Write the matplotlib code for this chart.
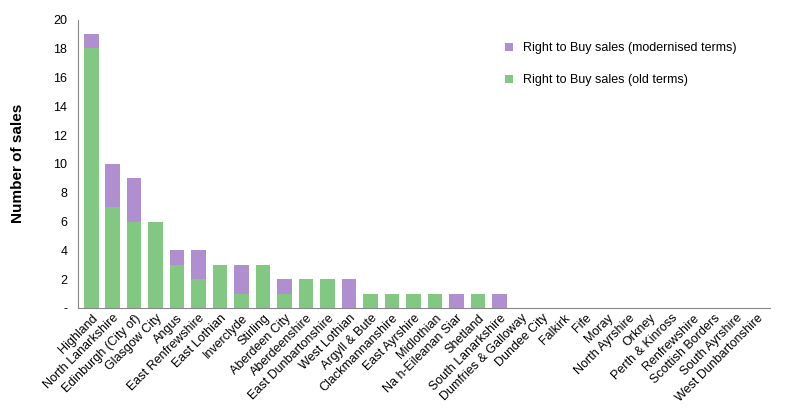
import matplotlib
matplotlib.use("Agg")
import matplotlib.pyplot as plt
import numpy as np

categories = ["Highland","North Lanarkshire","Edinburgh (City of)","Glasgow City","Angus",
 "East Renfrewshire","East Lothian","Inverclyde","Stirling","Aberdeen City","Aberdeenshire",
 "East Dunbartonshire","West Lothian","Argyll & Bute","Clackmannanshire","East Ayrshire",
 "Midlothian","Na h-Eileanan Siar","Shetland","South Lanarkshire","Dumfries & Galloway",
 "Dundee City","Falkirk","Fife","Moray","North Ayrshire","Orkney","Perth & Kinross",
 "Renfrewshire","Scottish Borders","South Ayrshire","West Dunbartonshire"]
old_terms = [18,7,6,6,3,2,3,1,3,1,2,2,0,1,1,1,1,0,1,0,0,0,0,0,0,0,0,0,0,0,0,0]
modern_terms = [1,3,3,0,1,2,0,2,0,1,0,0,2,0,0,0,0,1,0,1,0,0,0,0,0,0,0,0,0,0,0,0]
yticks = [0,2,4,6,8,10,12,14,16,18,20]
ytick_labels = ["-"] + [str(v) for v in yticks[1:]]

plt.rcParams["font.family"] = "Liberation Sans"
fig = plt.figure(figsize=(7.99,4.18), dpi=100)
ax = fig.add_axes([0.098, 0.263, 0.866, 0.69])
x = np.arange(len(categories))
ax.bar(x, old_terms, width=0.68, color="#82c882", label="Right to Buy sales (old terms)")
ax.bar(x, modern_terms, width=0.68, bottom=old_terms, color="#b08fd0",
       label="Right to Buy sales (modernised terms)")
ax.set_xlim(-0.6, len(categories)-0.4)
ax.set_ylim(0, 20)
ax.set_yticks(yticks)
ax.set_yticklabels(ytick_labels, fontsize=9)
ax.set_xticks(x)
ax.set_xticklabels(categories, rotation=45, ha="right", rotation_mode="anchor", fontsize=9)
ax.tick_params(axis="x", length=0, pad=3)
ax.tick_params(axis="y", length=0, pad=8)
for s in ["top","right"]:
    ax.spines[s].set_visible(False)
ax.spines["left"].set_color("#888888")
ax.spines["bottom"].set_color("#888888")
ax.set_ylabel("Number of sales", fontsize=11, fontweight="bold", labelpad=20)
h, l = ax.get_legend_handles_labels()
ax.legend(h[::-1], l[::-1], loc="upper left", bbox_to_anchor=(0.6, 0.96), frameon=False,
          fontsize=9, handlelength=0.7, handleheight=0.7, labelspacing=1.6)
fig.savefig("out.png", dpi=100)
